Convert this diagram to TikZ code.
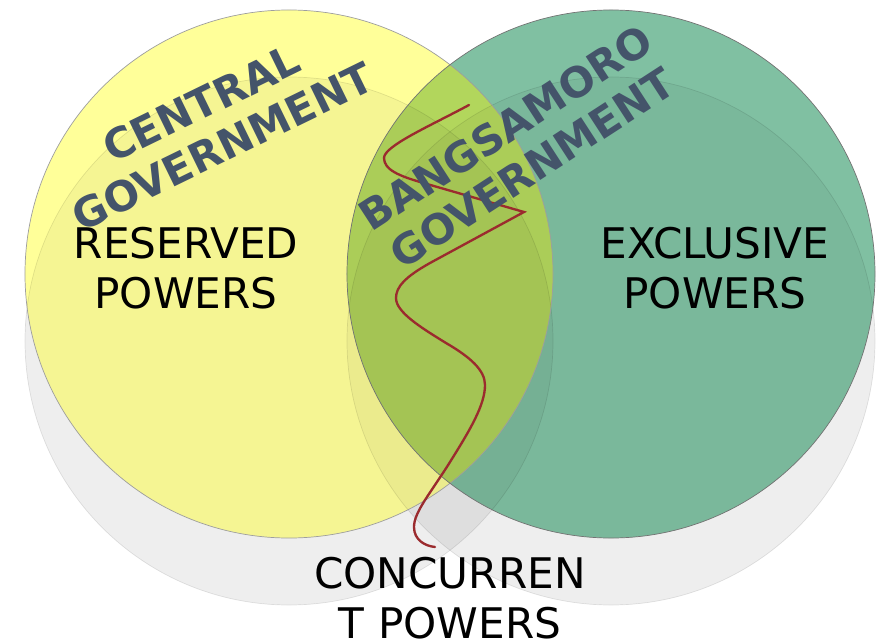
\documentclass[tikz,border=0pt]{standalone}
\usepackage{fontspec}
\setmainfont{DejaVu Sans}
\definecolor{yellowfill}{HTML}{FFFF99}
\definecolor{greenfill}{HTML}{80C0A2}
\definecolor{lensfill}{HTML}{B2D65C}
\definecolor{titleblue}{HTML}{44546A}
\definecolor{curvered}{HTML}{9B2B2E}
\begin{document}
\begin{tikzpicture}[x=0.03cm,y=-0.03cm,
  shadowdisc/.style={fill=black,fill opacity=0.065},
  shadowveil/.style={fill=black,fill opacity=0.04},
  shadowrim/.style={draw=black,draw opacity=0.1,line width=0.6pt},
  yellowrim/.style={draw=black!38,line width=0.6pt},
  greenrim/.style={draw=black!55,line width=0.6pt},
  powerlabel/.style={align=center,font=\fontsize{36}{42.5}\selectfont,text=black,inner sep=0pt},
  govtitle/.style={align=center,font=\fontsize{35.5}{41}\selectfont\bfseries,text=titleblue,inner sep=0pt},
  divider/.style={draw=curvered,line width=2pt,line cap=round,line join=miter}]
\useasboundingbox (0,0) rectangle (889,643);
\def\R{7.92cm}
\coordinate (yc) at (289,274);
\coordinate (gc) at (611,274);
\coordinate (ys) at (289,341);
\coordinate (gs) at (611,341);
% shadows beneath
\fill[shadowdisc] (ys) circle[radius=\R];
\fill[shadowdisc] (gs) circle[radius=\R];
% coloured discs
\fill[yellowfill] (yc) circle[radius=\R];
\fill[greenfill] (gc) circle[radius=\R];
\begin{scope}
  \clip (yc) circle[radius=\R];
  \fill[lensfill] (gc) circle[radius=\R];
\end{scope}
% shadows showing faintly through the discs
\begin{scope}
  \clip (yc) circle[radius=\R] (gc) circle[radius=\R];
  \fill[shadowveil] (ys) circle[radius=\R];
  \fill[shadowveil] (gs) circle[radius=\R];
\end{scope}
\draw[shadowrim] (ys) circle[radius=\R];
\draw[shadowrim] (gs) circle[radius=\R];
% rims
\draw[yellowrim] (yc) circle[radius=\R];
\draw[greenrim] (gc) circle[radius=\R];
% divider curve
\coordinate (c0) at (469,105);
\coordinate (c1) at (384,158);
\coordinate (c2) at (420,182);
\coordinate (c3) at (524,212);
\coordinate (c4) at (430,263);
\coordinate (c5) at (396,298);
\coordinate (c6) at (446,343);
\coordinate (c7) at (485,385);
\coordinate (c8) at (450,462);
\coordinate (c9) at (414,527);
\coordinate (c10) at (435,547);
\draw[divider] (c0) .. controls (430,126) and (384,146) .. (c1)
  .. controls (384,170) and (400,176) .. (c2) -- (c3) -- (c4)
  .. controls (405,277) and (396,287) .. (c5)
  .. controls (396,312) and (420,327) .. (c6)
  .. controls (470,357) and (485,370) .. (c7)
  .. controls (485,405) and (470,430) .. (c8)
  .. controls (430,494) and (414,512) .. (c9)
  .. controls (414,540) and (425,546) .. (c10);
% labels
\node[powerlabel] (reserved) at (186,268) {RESERVED\\POWERS};
\node[powerlabel] (exclusive) at (715,268) {EXCLUSIVE\\POWERS};
\node[powerlabel] (concurrent) at (450,598) {CONCURREN\\T POWERS};
\node[govtitle,rotate=26] (central) at (212,125) {CENTRAL\\GOVERNMENT};
\node[govtitle,rotate=33] (bangsamoro) at (519,148) {BANGSAMORO\\GOVERNMENT};
\end{tikzpicture}
\end{document}
